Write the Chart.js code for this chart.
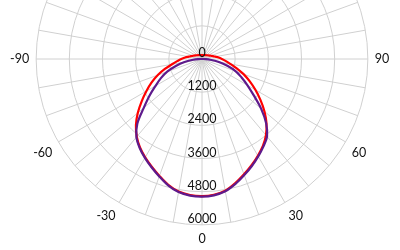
<!DOCTYPE html>
<html><head><meta charset="utf-8">
<script src="https://cdn.jsdelivr.net/npm/chart.js@4/dist/chart.umd.min.js"></script>
<style>
html,body{margin:0;padding:0;width:400px;height:250px;overflow:hidden;background:#fff;}
#wrap{position:absolute;left:0;top:-191px;width:400px;height:500px;}
</style></head><body>
<div id="wrap"><canvas id="c"></canvas></div>
<script>
// angles (degrees), listed clockwise starting from the top of the polar plot
const angles = [180,175,170,165,160,155,150,145,140,135,130,125,120,115,110,105,100,95,
  90,85,80,75,70,65,60,55,50,45,40,35,30,25,20,15,10,5,
  0,-5,-10,-15,-20,-25,-30,-35,-40,-45,-50,-55,-60,-65,-70,-75,-80,-85,
  -90,-95,-100,-105,-110,-115,-120,-125,-130,-135,-140,-145,-150,-155,-160,-165,-170,-175];
const labelStep = 30;   // angle labels shown every 30 deg
const spokeStep = 10;   // spokes every 10 deg
const tickValues = [0,1200,2400,3600,4800,6000];

const redSeries = [143,145,147,149,152,158,165,172,182,195,211,235,260,295,342,410,486,600,
  720,870,1050,1300,1600,1900,2230,2580,2950,3300,3600,3840,4040,4240,4440,4650,4840,4930,
  4960,4940,4870,4710,4500,4300,4110,3910,3670,3380,3030,2660,2320,2010,1700,1390,1100,900,
  750,610,490,412,345,297,262,236,212,196,183,173,165,158,152,149,147,145];
const purpleSeries = [0,0,0,0,0,0,0,0,0,0,0,0,0,0,0,0,0,30,
  60,300,620,950,1300,1580,1900,2280,2790,3280,3660,3870,4070,4270,4470,4680,4860,4950,
  4980,4960,4890,4730,4520,4320,4130,3930,3690,3310,2750,2320,1940,1640,1340,980,640,320,
  50,20,0,0,0,0,0,0,0,0,0,0,0,0,0,0,0,0];

const gridColor = '#d0d0d0';
const textColor = '#111111';
const fontFamily = 'Lato, "Open Sans", sans-serif';

const tickLabelPlugin = {
  id: 'tickLabels',
  afterDatasetsDraw(chart) {
    const s = chart.scales.r;
    const ctx = chart.ctx;
    ctx.save();
    ctx.font = '12.5px ' + fontFamily;
    ctx.fillStyle = textColor;
    ctx.textAlign = 'center';
    ctx.textBaseline = 'alphabetic';
    tickValues.forEach(v => {
      const d = s.getDistanceFromCenterForValue(v);
      ctx.fillText(String(v), s.xCenter, s.yCenter + d - 2);
    });
    ctx.restore();
  }
};

new Chart(document.getElementById('c'), {
  type: 'radar',
  data: {
    labels: angles.map(String),
    datasets: [
      { label: 'A', data: redSeries, borderColor: '#ff0000', borderWidth: 2.2, fill: false,
        pointRadius: 0, tension: 0.35, order: 1 },
      { label: 'B', data: purpleSeries, borderColor: '#5e1a8c', borderWidth: 2.2, fill: false,
        pointRadius: 0, tension: 0.35, order: 0 }
    ]
  },
  options: {
    responsive: true,
    maintainAspectRatio: false,
    animation: false,
    layout: { padding: { left: 8, right: 7, top: 0, bottom: 0 } },
    plugins: { legend: { display: false }, tooltip: { enabled: false } },
    scales: {
      r: {
        min: 0, max: 6000,
        startAngle: 0,
        ticks: { display: false, stepSize: 1200 },
        grid: { circular: true, color: gridColor, lineWidth: 1 },
        angleLines: {
          color: gridColor,
          lineWidth: (c) => (angles[c.index] % spokeStep === 0 ? 1 : 0)
        },
        pointLabels: {
          padding: 7,
          color: textColor,
          font: { family: fontFamily, size: 12.5 },
          callback: (label, index) => (angles[index] % labelStep === 0 ? label : '')
        }
      }
    }
  },
  plugins: [tickLabelPlugin]
});
</script>
</body></html>
